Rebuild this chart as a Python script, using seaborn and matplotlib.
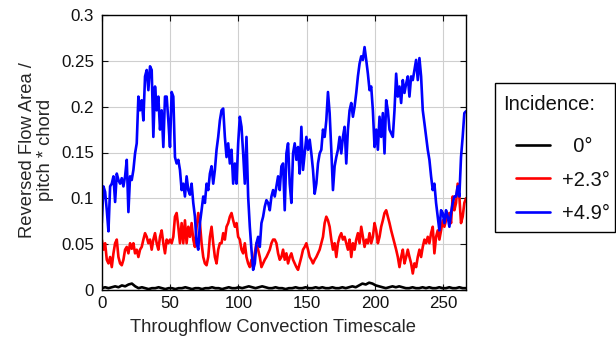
import numpy as np
import pandas as pd
import matplotlib
matplotlib.use("Agg")
import matplotlib.pyplot as plt
from matplotlib.patches import Rectangle
from matplotlib.ticker import FuncFormatter
import seaborn as sns

# Reversed-flow area (normalised by pitch * chord), sampled uniformly in time
t_end = 266.6

flow_0deg = [
    0.002, 0.003, 0.002, 0.003,
    0.004, 0.003, 0.005, 0.004, 0.006, 0.007, 0.004,
    0.002, 0.003, 0.002, 0.001, 0.002, 0.002, 0.003, 0.002, 0.001, 0.002,
    0.002, 0.001, 0.002, 0.002, 0.003, 0.002, 0.001, 0.002, 0.002, 0.001,
    0.002, 0.002, 0.003, 0.002, 0.002, 0.001, 0.002, 0.003, 0.002, 0.002,
    0.003, 0.002, 0.003, 0.004, 0.003, 0.002, 0.003, 0.004, 0.003, 0.002,
    0.002, 0.003, 0.002, 0.002, 0.001, 0.002, 0.002, 0.003, 0.002, 0.002,
    0.003, 0.002, 0.002, 0.003, 0.002, 0.003, 0.002, 0.002, 0.003, 0.002,
    0.002, 0.003, 0.002, 0.003, 0.004, 0.003, 0.005, 0.007, 0.006, 0.008,
    0.007, 0.005, 0.004, 0.003, 0.002, 0.003, 0.004, 0.003, 0.004, 0.003,
    0.002, 0.002, 0.003, 0.002, 0.002, 0.003, 0.002, 0.003, 0.002, 0.002,
    0.003, 0.002, 0.002, 0.003, 0.002, 0.002, 0.003, 0.002, 0.002,
]

flow_2p3deg = [
    0.055, 0.044, 0.051, 0.033, 0.029, 0.036, 0.025, 0.040, 0.051, 0.055,
    0.036, 0.029, 0.027, 0.033, 0.044, 0.047, 0.040, 0.051, 0.045, 0.051,
    0.040, 0.044, 0.036, 0.044, 0.047, 0.055, 0.062, 0.058, 0.051, 0.055,
    0.044, 0.055, 0.062, 0.051, 0.044, 0.058, 0.065, 0.051, 0.040, 0.055,
    0.051, 0.055, 0.051, 0.058, 0.080, 0.084, 0.069, 0.051, 0.073, 0.051,
    0.076, 0.051, 0.069, 0.058, 0.073, 0.055, 0.047, 0.069, 0.084, 0.073,
    0.051, 0.036, 0.029, 0.027, 0.036, 0.058, 0.069, 0.051, 0.036, 0.029,
    0.044, 0.051, 0.051, 0.062, 0.055, 0.069, 0.073, 0.080, 0.084, 0.076,
    0.069, 0.073, 0.058, 0.055, 0.044, 0.040, 0.051, 0.036, 0.029, 0.025,
    0.033, 0.025, 0.040, 0.051, 0.044, 0.036, 0.025, 0.029, 0.033, 0.036,
    0.040, 0.044, 0.051, 0.055, 0.055, 0.051, 0.040, 0.033, 0.036, 0.044,
    0.033, 0.040, 0.029, 0.036, 0.040, 0.033, 0.029, 0.025, 0.022, 0.029,
    0.036, 0.044, 0.047, 0.051, 0.044, 0.036, 0.033, 0.029, 0.033, 0.036,
    0.040, 0.044, 0.051, 0.058, 0.073, 0.080, 0.076, 0.069, 0.055, 0.044,
    0.051, 0.036, 0.051, 0.058, 0.062, 0.055, 0.058, 0.051, 0.044, 0.055,
    0.036, 0.051, 0.044, 0.055, 0.062, 0.051, 0.069, 0.058, 0.047, 0.055,
    0.051, 0.062, 0.051, 0.058, 0.073, 0.065, 0.051, 0.058, 0.069, 0.076,
    0.084, 0.087, 0.080, 0.073, 0.065, 0.058, 0.051, 0.044, 0.036, 0.025,
    0.036, 0.044, 0.029, 0.036, 0.044, 0.036, 0.029, 0.018, 0.029, 0.025,
    0.036, 0.044, 0.036, 0.047, 0.055, 0.051, 0.058, 0.051, 0.062, 0.069,
    0.040, 0.058, 0.065, 0.055, 0.065, 0.076, 0.069, 0.076, 0.080, 0.084,
    0.073, 0.102, 0.087, 0.095, 0.116, 0.102, 0.073, 0.080, 0.095, 0.100,
]

flow_4p9deg = [
    0.073, 0.113, 0.107, 0.087, 0.064, 0.113, 0.116, 0.124, 0.096, 0.127,
    0.120, 0.116, 0.122, 0.113, 0.124, 0.142, 0.085, 0.124, 0.120, 0.131,
    0.149, 0.160, 0.211, 0.196, 0.207, 0.185, 0.233, 0.240, 0.218, 0.244,
    0.240, 0.167, 0.222, 0.196, 0.211, 0.175, 0.196, 0.156, 0.211, 0.211,
    0.185, 0.156, 0.216, 0.211, 0.145, 0.138, 0.142, 0.131, 0.109, 0.116,
    0.102, 0.124, 0.109, 0.104, 0.116, 0.095, 0.080, 0.051, 0.044, 0.073,
    0.087, 0.102, 0.095, 0.116, 0.109, 0.127, 0.135, 0.116, 0.131, 0.153,
    0.167, 0.185, 0.196, 0.198, 0.167, 0.145, 0.160, 0.138, 0.153, 0.116,
    0.138, 0.116, 0.160, 0.189, 0.178, 0.149, 0.116, 0.167, 0.102, 0.069,
    0.044, 0.022, 0.029, 0.051, 0.058, 0.047, 0.073, 0.080, 0.091, 0.098,
    0.095, 0.087, 0.102, 0.109, 0.102, 0.113, 0.124, 0.109, 0.135, 0.138,
    0.087, 0.149, 0.160, 0.116, 0.095, 0.149, 0.160, 0.142, 0.156, 0.127,
    0.178, 0.131, 0.149, 0.167, 0.153, 0.164, 0.149, 0.131, 0.105, 0.116,
    0.138, 0.149, 0.153, 0.175, 0.167, 0.185, 0.216, 0.193, 0.153, 0.109,
    0.135, 0.145, 0.153, 0.167, 0.149, 0.167, 0.178, 0.138, 0.175, 0.196,
    0.204, 0.189, 0.200, 0.215, 0.233, 0.247, 0.255, 0.251, 0.265, 0.251,
    0.236, 0.218, 0.222, 0.196, 0.156, 0.175, 0.153, 0.189, 0.167, 0.193,
    0.149, 0.207, 0.196, 0.175, 0.171, 0.167, 0.196, 0.236, 0.211, 0.222,
    0.204, 0.229, 0.215, 0.225, 0.233, 0.211, 0.233, 0.229, 0.240, 0.251,
    0.229, 0.253, 0.233, 0.196, 0.182, 0.167, 0.153, 0.142, 0.124, 0.109,
    0.116, 0.095, 0.080, 0.065, 0.087, 0.084, 0.073, 0.087, 0.080, 0.069,
    0.084, 0.095, 0.102, 0.102, 0.113, 0.102, 0.145, 0.167, 0.193, 0.195,
]

series_labels = ["  0°", "+2.3°", "+4.9°"]
series_colors = ["#000000", "#ff0000", "#0000ff"]
series_values = [flow_0deg, flow_2p3deg, flow_4p9deg]

x_ticks = [0, 50, 100, 150, 200, 250]
y_ticks = [0, 0.05, 0.1, 0.15, 0.2, 0.25, 0.3]

sns.set_style("ticks")
plt.rcParams["font.family"] = ["Liberation Sans", "DejaVu Sans"]
plt.rcParams["text.color"] = "#111111"

W, H = 616, 342
fig = plt.figure(figsize=(W / 100, H / 100), dpi=100)
ax = fig.add_axes([101.8 / W, 1 - 290 / H, 364.2 / W, 275 / H])

handles = []
for vals, col in zip(series_values, series_colors):
    df = pd.DataFrame({"t": np.linspace(0, t_end, len(vals)), "area": vals})
    sns.lineplot(data=df, x="t", y="area", color=col, linewidth=1.9,
                 ax=ax, legend=False, estimator=None)
    handles.append(ax.lines[-1])

ax.set_xlim(0, t_end)
ax.set_ylim(0, 0.3)
ax.set_xticks(x_ticks)
ax.set_yticks(y_ticks)
ax.yaxis.set_major_formatter(FuncFormatter(lambda v, p: f"{v:g}"))
ax.grid(True, color="#cfcfcf", linewidth=0.8)
ax.set_axisbelow(True)
ax.tick_params(direction="in", top=True, right=True, length=4, width=0.8,
               labelsize=12.2, colors="#111111")
ax.tick_params(axis="x", pad=4.5)
ax.tick_params(axis="y", pad=5.6)
for s in ax.spines.values():
    s.set_color("black")
    s.set_linewidth(1.0)

ax.set_xlabel("Throughflow Convection Timescale", fontsize=13.2)
ax.xaxis.set_label_coords(0.469, -0.105)
ax.set_ylabel("Reversed Flow Area /\npitch * chord", fontsize=13.2,
              linespacing=1.1)
ax.yaxis.set_label_coords(-0.131, 0.51)

# legend entries, with a framed box and heading around them
leg = ax.legend(handles, series_labels, loc="upper left",
                bbox_to_anchor=(516 / W, 1 - 137 / H),
                bbox_transform=fig.transFigure,
                frameon=False, borderpad=0, borderaxespad=0, handlelength=1.7,
                handletextpad=0.6, labelspacing=0.72, fontsize=14.5)
for line in leg.get_lines():
    line.set_linewidth(1.9)
fig.text(503 / W, 1 - 104 / H, "Incidence:", fontsize=14.5,
         ha="left", va="center")
fig.add_artist(Rectangle((495 / W, 1 - 232 / H), 120 / W, 149 / H,
                         transform=fig.transFigure, fill=False,
                         edgecolor="black", linewidth=1.0))

fig.savefig("out.png", dpi=100)
